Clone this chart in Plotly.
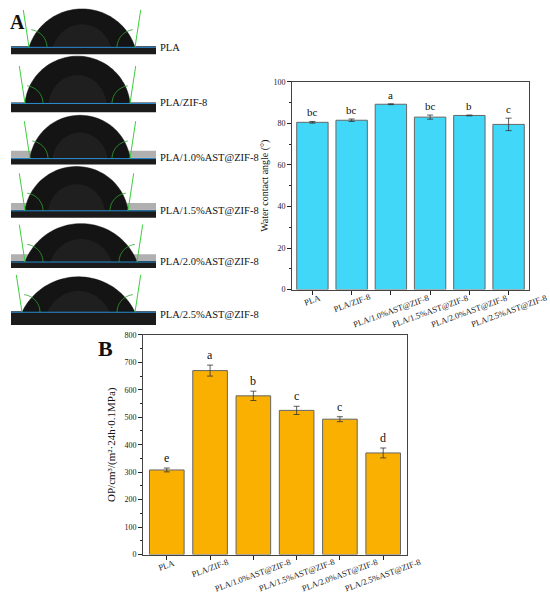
import numpy as np
import plotly.graph_objects as go

W, H = 550, 593

# ---- data ----
samples = ["PLA", "PLA/ZIF-8", "PLA/1.0%AST@ZIF-8", "PLA/1.5%AST@ZIF-8",
           "PLA/2.0%AST@ZIF-8", "PLA/2.5%AST@ZIF-8"]
wca = [80.5, 81.5, 89.2, 83.0, 83.8, 79.5]
wca_err = [0.4, 0.6, 0.2, 1.0, 0.2, 3.0]
wca_letters = ["bc", "bc", "a", "bc", "b", "c"]

op = [308, 670, 578, 525, 493, 370]
op_err = [7, 20, 17, 15, 9, 18]
op_letters = ["e", "a", "b", "c", "c", "d"]

# droplet photos (pixel boxes): left, right, top of drop, baseline, strip bottom
photos = [
    (29, 135, 5, 44, 51),
    (25, 130, 53, 101, 110),
    (30, 130, 113, 157, 163),
    (25, 128, 165, 210, 217),
    (25, 137, 223, 262, 268),
    (22, 135, 277, 313, 326),
]
grey_band = [False, False, True, True, True, False]

FONT = "Liberation Serif"


def px(x):
    return x / W


def py(y):
    return 1 - y / H


fig = go.Figure()

fig.add_trace(go.Bar(
    x=list(range(6)), y=wca,
    error_y=dict(type="data", array=wca_err, color="#333", thickness=0.8, width=3),
    marker=dict(color="#40d7f9", line=dict(color="#666", width=1)),
    width=0.8, xaxis="x", yaxis="y", showlegend=False))

fig.add_trace(go.Bar(
    x=list(range(6)), y=op,
    error_y=dict(type="data", array=op_err, color="#333", thickness=0.8, width=3),
    marker=dict(color="#f9b000", line=dict(color="#666", width=1)),
    width=0.8, xaxis="x2", yaxis="y2", showlegend=False))

axis_common = dict(showline=True, linecolor="#444", linewidth=1, mirror=True,
                   showgrid=False, zeroline=False, ticks="outside", ticklen=4,
                   tickcolor="#222", tickfont=dict(family=FONT, size=8, color="#222"))

fig.update_layout(
    width=W, height=H, margin=dict(l=0, r=0, t=0, b=0),
    paper_bgcolor="white", plot_bgcolor="rgba(0,0,0,0)",
    font=dict(family=FONT, color="#111"),
    xaxis=dict(domain=[px(292), px(529)], range=[-0.52, 5.52], tickvals=list(range(6)),
               showticklabels=False, anchor="y", **axis_common),
    yaxis=dict(domain=[py(290), py(79)], range=[0, 100], dtick=20, anchor="x",
               minor=dict(dtick=10, ticks="outside", ticklen=2, tickcolor="#222"),
               title=dict(text="Water contact angle (°)", font=dict(family=FONT, size=10),
                          standoff=2),
               **axis_common),
    xaxis2=dict(domain=[px(143), px(407)], range=[-0.55, 5.55], tickvals=list(range(6)),
                showticklabels=False, anchor="y2", **axis_common),
    yaxis2=dict(domain=[py(559), py(336)], range=[0, 800], dtick=100, anchor="x2",
                minor=dict(dtick=50, ticks="outside", ticklen=2, tickcolor="#222"),
                title=dict(text="OP/cm³/(m²·24h·0.1MPa)", font=dict(family=FONT, size=11),
                           standoff=6),
                **axis_common),
)

ann = []
for i, s in enumerate(samples):
    for xa, ya in (("x", "y"), ("x2", "y2")):
        ann.append(dict(x=i, y=0, xref=xa, yref=ya + " domain", text=s, showarrow=False,
                        textangle=-20, xanchor="center", yanchor="top", yshift=0,
                        font=dict(family=FONT, size=8.5, color="#222")))
    ann.append(dict(x=i, y=wca[i] + wca_err[i], xref="x", yref="y", text=wca_letters[i],
                    showarrow=False, yanchor="bottom", yshift=1,
                    font=dict(family=FONT, size=11, color="#111")))
    ann.append(dict(x=i, y=op[i] + op_err[i], xref="x2", yref="y2", text=op_letters[i],
                    showarrow=False, yanchor="bottom", yshift=1,
                    font=dict(family=FONT, size=12, color="#111")))

ann.append(dict(x=px(8), y=py(18), xref="paper", yref="paper", text="<b>A</b>",
                showarrow=False, xanchor="left", yanchor="middle",
                font=dict(family=FONT, size=20, color="#111")))
ann.append(dict(x=px(96), y=py(350), xref="paper", yref="paper", text="<b>B</b>",
                showarrow=False, xanchor="left", yanchor="middle",
                font=dict(family=FONT, size=22, color="#111")))

label_y = [44, 100, 156, 210, 261, 315]
for s, ly in zip(samples, label_y):
    ann.append(dict(x=px(158), y=py(ly), xref="paper", yref="paper", text=s,
                    showarrow=False, xanchor="left", yanchor="middle",
                    font=dict(family=FONT, size=10.5, color="#111")))

# ---- droplet photo sketches ----
shapes = []
for (x0, x1, top, base, bot), band in zip(photos, grey_band):
    # substrate strip
    shapes.append(dict(type="rect", xref="paper", yref="paper", x0=px(11), x1=px(156),
                       y0=py(bot), y1=py(base - 1), fillcolor="#1b1b1b", line_width=0,
                       layer="below"))
    if band:
        shapes.append(dict(type="rect", xref="paper", yref="paper", x0=px(11), x1=px(156),
                           y0=py(base - 1), y1=py(base - 8), fillcolor="#b0b0b0",
                           line_width=0, layer="below"))
    # circular cap
    w = x1 - x0
    h = base - top
    R = (w * w / 4 + h * h) / (2 * h)
    cx = (x0 + x1) / 2
    cy = base + (R - h)
    a0 = np.arcsin((w / 2) / R)
    th = np.linspace(-a0, a0, 60)
    xs = cx + R * np.sin(th)
    ys = cy - R * np.cos(th)
    path = "M " + " L ".join(f"{px(a):.4f},{py(b):.4f}" for a, b in zip(xs, ys)) + " Z"
    shapes.append(dict(type="path", xref="paper", yref="paper", path=path,
                       fillcolor="#141414", line=dict(color="#0a0a0a", width=0.5),
                       layer="below"))
    inner = "M " + " L ".join(f"{px(cx + (a - cx) * 0.55):.4f},{py(base - (base - b) * 0.6):.4f}"
                              for a, b in zip(xs, ys)) + " Z"
    shapes.append(dict(type="path", xref="paper", yref="paper", path=inner,
                       fillcolor="#1f1f1f", line_width=0, layer="below"))
    # baseline
    shapes.append(dict(type="line", xref="paper", yref="paper", x0=px(11), x1=px(156),
                       y0=py(base), y1=py(base), line=dict(color="#2b8fd6", width=1)))
    # tangent lines and angle arcs
    L = 38
    for sx, sgn in ((x0, -1), (x1, 1)):
        dx = sgn * L * 0.15
        shapes.append(dict(type="line", xref="paper", yref="paper", x0=px(sx), x1=px(sx + dx),
                           y0=py(base), y1=py(base - L), line=dict(color="#3ccf3c", width=1)))
        arc = [(sx - sgn * 18 * np.cos(t), base - 18 * np.sin(t)) for t in np.linspace(0, 1.45, 12)]
        shapes.append(dict(type="path", xref="paper", yref="paper",
                           path="M " + " L ".join(f"{px(a):.4f},{py(b):.4f}" for a, b in arc),
                           line=dict(color="#2fa02f", width=0.8)))

fig.update_layout(annotations=ann, shapes=shapes)

fig.write_html("out.html", config={"displayModeBar": False},
               post_script="document.body.style.margin='0';")
